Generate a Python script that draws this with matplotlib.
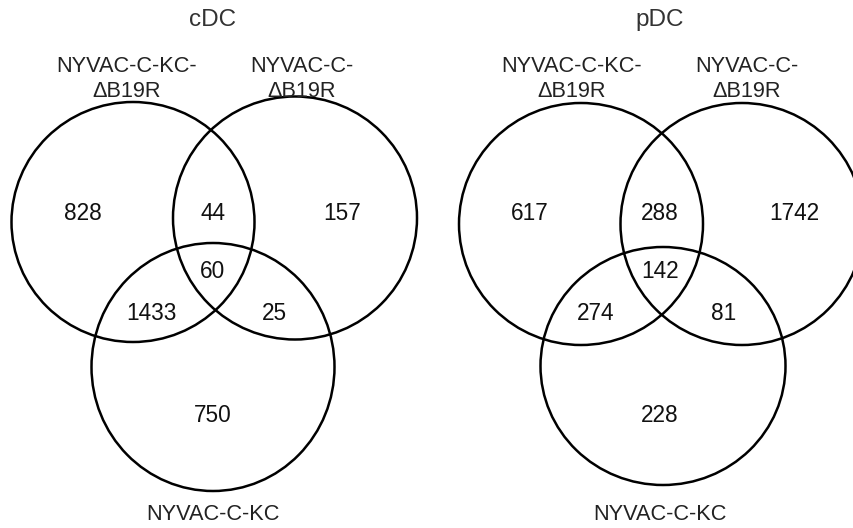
import matplotlib.pyplot as plt
from matplotlib.patches import Ellipse

plt.rcParams['font.family'] = ['Liberation Sans', 'DejaVu Sans']

# Venn panels and region counts
panel_titles = ['cDC', 'pDC']
set_labels = ['NYVAC-C-KC-\n\u0394B19R', 'NYVAC-C-\n\u0394B19R', 'NYVAC-C-KC']
# region order: only A, A&B, only B, A&B&C, A&C, B&C, only C
region_names = ['A', 'AB', 'B', 'ABC', 'AC', 'BC', 'C']
cdc_counts = [828, 44, 157, 60, 1433, 25, 750]
pdc_counts = [617, 288, 1742, 142, 274, 81, 228]

# layout (pixel coordinates, y downwards)
panel_x0 = [0, 427]
circle_geom = [
    # (cx, cy, w, h) relative to panel
    [(133, 222, 243, 240), (295, 218, 244, 243), (213, 367, 243, 248)],
    [(154, 224, 244, 242), (315, 224, 243, 242), (236, 366, 245, 238)],
]
region_pos = [
    {'A': (83, 213), 'AB': (213, 213), 'B': (342, 213), 'ABC': (213, 272),
     'AC': (151, 313), 'BC': (274, 313), 'C': (213, 415)},
    {'A': (103, 213), 'AB': (233, 213), 'B': (367, 213), 'ABC': (233, 272),
     'AC': (169, 313), 'BC': (297, 313), 'C': (233, 415)},
]
title_x = [213, 233]
label_pos = [
    [(127, 79), (302, 79), (213, 515)],
    [(145, 79), (320, 79), (233, 515)],
]

fig = plt.figure(figsize=(8.54, 5.28), dpi=100)
ax = fig.add_axes([0, 0, 1, 1])
ax.set_xlim(0, 854)
ax.set_ylim(528, 0)
ax.axis('off')

for p, counts in enumerate([cdc_counts, pdc_counts]):
    x0 = panel_x0[p]
    for cx, cy, w, h in circle_geom[p]:
        ax.add_patch(Ellipse((x0 + cx, cy), w, h, fill=False, ec='black', lw=1.8))
    for name, val in zip(region_names, counts):
        rx, ry = region_pos[p][name]
        ax.text(x0 + rx, ry, str(val), ha='center', va='center', fontsize=16.3, color='#111111')
    ax.text(x0 + title_x[p], 20, panel_titles[p], ha='center', va='center', fontsize=17.5, color='#333333')
    for lbl, (lx, ly) in zip(set_labels, label_pos[p]):
        ax.text(x0 + lx, ly, lbl, ha='center', va='center', fontsize=15.7, color='#222222', linespacing=1.25)

fig.savefig('out.png', dpi=100)
